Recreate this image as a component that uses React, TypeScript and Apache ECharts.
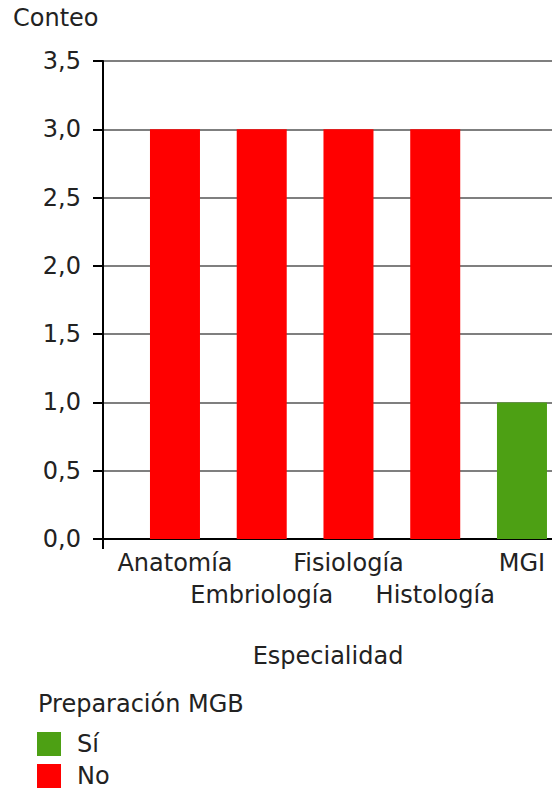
import React, { useEffect, useRef } from "react";
import * as echarts from "echarts";

const categories = ["Anatomía", "Embriología", "Fisiología", "Histología", "MGI"];
const siValues = [0, 0, 0, 0, 1];
const noValues = [3, 3, 3, 3, 0];
const yMin = 0;
const yMax = 3.5;
const yStep = 0.5;

const FONT = '"DejaVu Sans", Verdana, sans-serif';
const FS = 24;
const TXT = "#222";

export default function App() {
  const ref = useRef<HTMLDivElement>(null);
  useEffect(() => {
    if (!ref.current) return;
    const chart = echarts.init(ref.current, undefined, { renderer: "svg" });
    const fmt = (v: number) => v.toFixed(1).replace(".", ",");
    chart.setOption({
      animation: false,
      backgroundColor: "#fff",
      textStyle: { fontFamily: FONT },
      grid: [
        { left: 103, top: 61, right: 0, bottom: 250 },
        { left: 131.6, top: 61, width: 433.75, bottom: 250 },
      ],
      xAxis: [
        {
          gridIndex: 0,
          type: "value",
          min: 0,
          max: 1,
          interval: 1,
          axisLine: { show: true, lineStyle: { color: "#000", width: 2 } },
          axisTick: { show: true, length: 10, lineStyle: { color: "#000", width: 2 } },
          axisLabel: { show: false },
          splitLine: { show: false },
        },
        {
          gridIndex: 1,
          type: "category",
          data: categories,
          axisLine: { show: false },
          axisTick: { show: false },
          splitLine: { show: false },
          axisLabel: {
            interval: 0,
            fontSize: FS,
            fontFamily: FONT,
            color: TXT,
            margin: 8,
            lineHeight: 32,
            formatter: (v: string, i: number) => (i % 2 ? "\n" + v : v),
          },
        },
      ],
      yAxis: [
        {
          gridIndex: 0,
          type: "value",
          min: yMin,
          max: yMax,
          interval: yStep,
          axisLine: { show: true, lineStyle: { color: "#000", width: 2 } },
          axisTick: { show: true, length: 10, lineStyle: { color: "#000", width: 2 } },
          axisLabel: {
            fontSize: FS,
            fontFamily: FONT,
            color: TXT,
            margin: 22,
            formatter: fmt,
          },
          splitLine: { show: true, lineStyle: { color: "#555", width: 1.5 } },
        },
        {
          gridIndex: 1,
          type: "value",
          min: yMin,
          max: yMax,
          show: false,
        },
      ],
      legend: {
        orient: "vertical",
        left: 37,
        top: 732,
        height: 90,
        padding: 0,
        itemWidth: 24,
        itemHeight: 24,
        itemGap: 8,
        icon: "rect",
        data: ["Sí", "No"],
        textStyle: {
          fontSize: FS,
          fontFamily: FONT,
          color: TXT,
          lineHeight: 22,
          padding: [0, 0, 0, 11],
        },
      },
      graphic: [
        {
          type: "text",
          x: 13,
          y: 18,
          style: { text: "Conteo", fontSize: FS, fontFamily: FONT, fill: TXT, textVerticalAlign: "middle" },
        },
        {
          type: "text",
          x: 328,
          y: 656,
          style: {
            text: "Especialidad",
            fontSize: FS,
            fontFamily: FONT,
            fill: TXT,
            textAlign: "center",
            textVerticalAlign: "middle",
          },
        },
        {
          type: "text",
          x: 38,
          y: 704,
          style: { text: "Preparación MGB", fontSize: FS, fontFamily: FONT, fill: TXT, textVerticalAlign: "middle" },
        },
      ],
      series: [
        {
          name: "Sí",
          type: "bar",
          stack: "total",
          xAxisIndex: 1,
          yAxisIndex: 1,
          barWidth: 50,
          data: siValues,
          itemStyle: { color: "#4DA014" },
        },
        {
          name: "No",
          type: "bar",
          stack: "total",
          xAxisIndex: 1,
          yAxisIndex: 1,
          barWidth: 50,
          data: noValues,
          itemStyle: { color: "#FF0000" },
        },
      ],
    });
    return () => chart.dispose();
  }, []);
  return (
    <div
      style={{
        position: "absolute",
        left: 0,
        top: 0,
        width: 552,
        height: 789,
        overflow: "hidden",
        background: "#fff",
      }}
    >
      <div ref={ref} style={{ width: 600, height: 789 }} />
    </div>
  );
}
